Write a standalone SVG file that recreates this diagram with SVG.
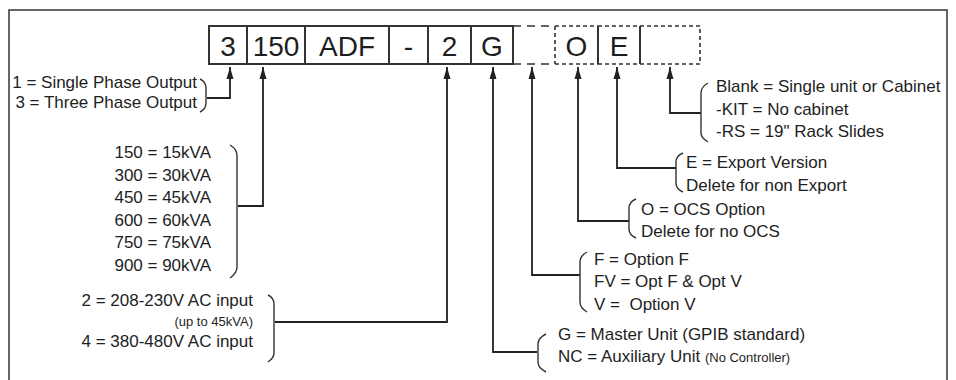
<svg xmlns="http://www.w3.org/2000/svg" width="956" height="380" viewBox="0 0 956 380">
<defs>
<style>
.t{font-family:"Liberation Sans",Arial,sans-serif;font-size:17px;fill:#1e1e1e}
.s{font-size:13px}
.b{font-family:"Liberation Sans",Arial,sans-serif;font-size:28px;fill:#1e1e1e;text-anchor:middle}
.box{fill:none;stroke:#333;stroke-width:2}
.dl{fill:none;stroke:#333;stroke-width:1.6;stroke-dasharray:8 6}
.ds{fill:none;stroke:#333;stroke-width:1.6;stroke-dasharray:4 3}
.br{fill:none;stroke:#333;stroke-width:1.4}
.c{fill:none;stroke:#222;stroke-width:1.8;marker-end:url(#ah)}
</style>
<marker id="ah" markerUnits="userSpaceOnUse" markerWidth="12" markerHeight="8" viewBox="0 0 12 8" refX="12" refY="4" orient="auto">
<path d="M0,0.5 L12,4 L0,7.5 Z" fill="#222"/>
</marker>
</defs>
<rect x="0" y="0" width="956" height="380" fill="#fff"/>
<rect x="9" y="10" width="938" height="390" fill="none" stroke="#333" stroke-width="1.5"/>

<g id="code">
<g id="box-3"><rect class="box" x="209" y="26" width="38" height="38"/><text class="b" x="228" y="55.5">3</text></g>
<g id="box-150"><rect class="box" x="247" y="26" width="58" height="38"/><text class="b" x="276" y="55.5">150</text></g>
<g id="box-adf"><rect class="box" x="305" y="26" width="84" height="38"/><text class="b" x="347" y="55.5">ADF</text></g>
<g id="box-dash"><rect class="box" x="389" y="26" width="39" height="38"/><text class="b" x="408.5" y="55.5">-</text></g>
<g id="box-2"><rect class="box" x="428" y="26" width="43" height="38"/><text class="b" x="449.5" y="55.5">2</text></g>
<g id="box-g"><rect class="box" x="471" y="26" width="42" height="38"/><text class="b" x="492" y="55.5">G</text></g>
<g id="box-blank"><path class="dl" d="M513,26 H555 M513,64 H555"/><path class="ds" d="M555,26 V64"/></g>
<g id="box-o"><path class="ds" d="M555,26 H598 M555,64 H598"/><path class="box" d="M598,26 V64"/><text class="b" x="576.5" y="55.5">O</text></g>
<g id="box-e"><path class="ds" d="M598,26 H640 M598,64 H640"/><path class="box" d="M640,26 V64"/><text class="b" x="619" y="55.5">E</text></g>
<g id="box-opt"><path class="ds" d="M640,26 H700 V64 H640"/></g>
</g>

<g id="connectors">
<path class="c" d="M207,98 H230 V67"/>
<path class="c" d="M238,206 H263 V67"/>
<path class="c" d="M275,322 H447 V67"/>
<path class="c" d="M537,352 H493 V67"/>
<path class="c" d="M580,275 H532 V67"/>
<path class="c" d="M629,221 H578 V67"/>
<path class="c" d="M676,168 H617 V67"/>
<path class="c" d="M701,113 H670 V67"/>
</g>

<g id="phase">
<path class="br" d="M200,79 Q206,82 206,88 V103 Q206,109 200,112"/>
<text class="t" x="197" y="88" text-anchor="end">1 = Single Phase Output</text>
<text class="t" x="197" y="108" text-anchor="end">3 = Three Phase Output</text>
</g>

<g id="kva">
<path class="br" d="M230,145 Q237,149 237,156 V267 Q237,273 230,278"/>
<text class="t" x="211" y="158" text-anchor="end">150 = 15kVA</text>
<text class="t" x="211" y="180.5" text-anchor="end">300 = 30kVA</text>
<text class="t" x="211" y="203" text-anchor="end">450 = 45kVA</text>
<text class="t" x="211" y="225.5" text-anchor="end">600 = 60kVA</text>
<text class="t" x="211" y="248" text-anchor="end">750 = 75kVA</text>
<text class="t" x="211" y="270.5" text-anchor="end">900 = 90kVA</text>
</g>

<g id="input">
<path class="br" d="M268,295 Q274,298 274,304 V353 Q274,358 268,362"/>
<text class="t" x="253" y="306" text-anchor="end">2 = 208-230V AC input</text>
<text class="t s" x="253" y="326" text-anchor="end">(up to 45kVA)</text>
<text class="t" x="253" y="347" text-anchor="end">4 = 380-480V AC input</text>
</g>

<g id="options-cab">
<path class="br" d="M708,83 Q701,87 701,93 V133 Q701,138 708,142"/>
<text class="t" x="716" y="92">Blank = Single unit or Cabinet</text>
<text class="t" x="716" y="115">-KIT = No cabinet</text>
<text class="t" x="716" y="137">-RS = 19" Rack Slides</text>
</g>

<g id="options-e">
<path class="br" d="M683,153 Q676,156 676,162 V183 Q676,189 683,192"/>
<text class="t" x="686" y="168">E = Export Version</text>
<text class="t" x="686" y="191">Delete for non Export</text>
</g>

<g id="options-o">
<path class="br" d="M636,199 Q629,202 629,208 V229 Q629,235 636,238"/>
<text class="t" x="641" y="215">O = OCS Option</text>
<text class="t" x="641" y="237">Delete for no OCS</text>
</g>

<g id="options-f">
<path class="br" d="M587,252 Q580,256 580,262 V302 Q580,308 587,312"/>
<text class="t" x="594" y="265">F = Option F</text>
<text class="t" x="594" y="287">FV = Opt F &amp; Opt V</text>
<text class="t" x="594" y="310" style="white-space:pre">V =  Option V</text>
</g>

<g id="options-g">
<path class="br" d="M546,334 Q538,338 538,344 V362 Q538,368 546,372"/>
<text class="t" x="558" y="340">G = Master Unit (GPIB standard)</text>
<text class="t" x="558" y="362">NC = Auxiliary Unit <tspan class="s">(No Controller)</tspan></text>
</g>
</svg>
